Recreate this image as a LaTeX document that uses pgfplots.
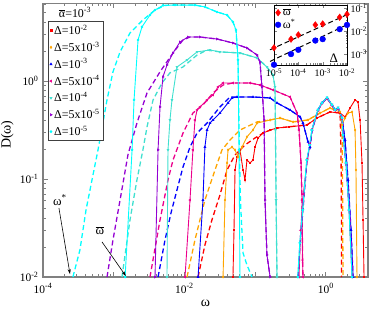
\documentclass[border=0pt]{standalone}
\usepackage{fontspec}
\setmainfont{Liberation Serif}
\usepackage{pgfplots}
\pgfplotsset{compat=1.18}
\usetikzlibrary{arrows.meta}
\definecolor{cOrange}{RGB}{255,165,0}
\definecolor{cTurq}{RGB}{64,224,208}
\definecolor{cPurple}{RGB}{148,0,211}
\definecolor{cCyan}{RGB}{0,255,255}
\pgfplotsset{
 sol/.style={line width=0.9pt, mark size=0.8pt},
 das/.style={line width=1.3pt, dash pattern=on 5bp off 3bp, mark=none},
}
\begin{document}
\begin{tikzpicture}
\begin{axis}[
 name=main, at={(0,0)}, anchor=south west,
 scale only axis, width=325bp, height=273.7bp,
 xmode=log, ymode=log,
 xmin=1e-4, xmax=3.95, ymin=0.01, ymax=6.2,
 xtick={1e-4,1e-3,1e-2,1e-1,1},
 xticklabels={10\textsuperscript{-4},,10\textsuperscript{-2},,10\textsuperscript{0}},
 minor xtick={2e-4,3e-4,4e-4,5e-4,6e-4,7e-4,8e-4,9e-4,2e-3,3e-3,4e-3,5e-3,6e-3,7e-3,8e-3,9e-3,2e-2,3e-2,4e-2,5e-2,6e-2,7e-2,8e-2,9e-2,0.2,0.3,0.4,0.5,0.6,0.7,0.8,0.9,2,3},
 ytick={0.01,0.1,1},
 yticklabels={10\textsuperscript{-2},10\textsuperscript{-1},10\textsuperscript{0}},
 minor ytick={0.02,0.03,0.04,0.05,0.06,0.07,0.08,0.09,0.2,0.3,0.4,0.5,0.6,0.7,0.8,0.9,2,3,4,5,6},
 tick align=inside, major tick length=5bp, minor tick length=3bp,
 axis line style={gray, line width=1.1pt},
 tick style={gray, line width=0.7pt},
 tick label style={font=\fontsize{11.5}{13}\selectfont, black},
 xticklabel style={yshift=-3bp},
 yticklabel style={xshift=-1bp},
 xlabel={ω}, ylabel={D(ω)},
 label style={font=\fontsize{14}{16}\selectfont},
 xlabel style={at={(axis description cs:0.5,-0.095)}, anchor=center},
 ylabel style={at={(axis description cs:-0.11,0.52)}, anchor=center},
 legend image code/.code={\draw[#1] plot coordinates {(0.1cm,0cm)};},
 legend cell align=left,
 legend style={at={(axis description cs:0.0154,0.935)}, anchor=north west,
   draw=black!75, line width=0.6pt, fill=white, inner sep=1.5pt, row sep=1.8pt,
   font=\fontsize{12}{13}\selectfont},
]
\addlegendimage{only marks, mark=square*, mark size=1pt, red}
\addlegendentry{Δ=10\textsuperscript{-2}}
\addlegendimage{only marks, mark=diamond*, mark size=1.2pt, cOrange}
\addlegendentry{Δ=5x10\textsuperscript{-3}}
\addlegendimage{only marks, mark=triangle*, mark size=1.2pt, blue}
\addlegendentry{Δ=10\textsuperscript{-3}}
\addlegendimage{only marks, mark=triangle*, mark size=1.2pt, mark options={rotate=90}, magenta}
\addlegendentry{Δ=5x10\textsuperscript{-4}}
\addlegendimage{only marks, mark=triangle*, mark size=1.2pt, mark options={rotate=180}, cTurq}
\addlegendentry{Δ=10\textsuperscript{-4}}
\addlegendimage{only marks, mark=triangle*, mark size=1.2pt, mark options={rotate=270}, cPurple}
\addlegendentry{Δ=5x10\textsuperscript{-5}}
\addlegendimage{only marks, mark=*, mark size=1pt, cCyan}
\addlegendentry{Δ=10\textsuperscript{-5}}

% ---- red, Delta = 1e-2
\addplot[sol, red, mark=square*, forget plot] coordinates {
(4.86e-2,0.01)(5.03e-2,0.0302)(5.2e-2,0.1236)(5.55e-2,0.1675)(6.11e-2,0.198)(6.75e-2,0.1236)(7.19e-2,0.0977)(7.67e-2,0.156)(8.47e-2,0.1455)(9.33e-2,0.156)(9.97e-2,0.212)(0.11,0.262)(0.1294,0.294)(0.163,0.316)(0.204,0.331)(0.3,0.34)(0.542,0.356)(0.751,0.419)(1.146,0.483)(1.588,0.471)(1.87,0.43)(2.2,0.53)(2.59,0.64)(2.85,0.611)(3.05,0.40)(3.25,0.1455)(3.36,0.0382)(3.47,0.01)};
\addplot[das, red, forget plot] coordinates {
(1.56e-2,0.01)(1.95e-2,0.0212)(2.45e-2,0.0382)(3.18e-2,0.0687)(4.01e-2,0.1236)(5.2e-2,0.176)(7.19e-2,0.222)(9.97e-2,0.262)(0.138,0.302)(0.204,0.331)(0.542,0.356)(0.751,0.419)(1.146,0.483)(1.588,0.471)(1.64,0.2)(1.66,0.06)(1.67,0.01)};
% ---- orange, Delta = 5e-3
\addplot[sol, cOrange, mark=diamond*, forget plot] coordinates {
(3.52e-2,0.01)(3.75e-2,0.061)(4.01e-2,0.1455)(4.14e-2,0.198)(4.71e-2,0.212)(5.2e-2,0.198)(5.73e-2,0.1675)(6.53e-2,0.212)(7.67e-2,0.269)(9.33e-2,0.316)(0.1064,0.372)(0.163,0.40)(0.225,0.419)(0.344,0.382)(0.56,0.40)(0.828,0.471)(1.146,0.53)(1.588,0.483)(1.694,0.356)(1.87,0.419)(2.06,0.471)(2.35,0.483)(2.59,0.316)(2.67,0.1236)(2.76,0.01)};
\addplot[das, cOrange, forget plot] coordinates {
(1.09e-2,0.01)(1.41e-2,0.0239)(1.95e-2,0.061)(2.71e-2,0.1236)(3.4e-2,0.198)(4.42e-2,0.25)(6.11e-2,0.316)(0.1064,0.382)(0.163,0.40)(0.225,0.419)(0.344,0.382)(0.56,0.40)(0.828,0.471)(1.146,0.53)(1.588,0.483)(1.694,0.356)(1.72,0.12)(1.75,0.01)};
% ---- blue, Delta = 1e-3
\addplot[sol, blue, mark=triangle*, forget plot] coordinates {
(1.56e-2,0.01)(1.83e-2,0.061)(1.95e-2,0.212)(2.09e-2,0.316)(2.3e-2,0.372)(2.54e-2,0.40)(3.18e-2,0.471)(4.14e-2,0.597)(4.71e-2,0.671)(5.55e-2,0.687)(9.33e-2,0.687)(0.163,0.671)(0.204,0.597)(0.312,0.506)(0.432,0.43)(0.475,0.372)(0.56,0.239)(0.598,0.212)(0.638,0.316)(0.776,0.506)(0.883,0.597)(1.04,0.671)(1.224,0.569)(1.349,0.506)(1.489,0.53)(1.694,0.419)(1.87,0.25)(2.06,0.0977)(2.27,0.0302)(2.43,0.01)};
\addplot[das, blue, forget plot] coordinates {
(4.24e-3,0.01)(5.32e-3,0.0239)(6.46e-3,0.045)(7.85e-3,0.0772)(9.55e-3,0.1325)(1.2e-2,0.212)(1.51e-2,0.294)(2.09e-2,0.372)(3.18e-2,0.543)(4.42e-2,0.687)(5.55e-2,0.687)(9.33e-2,0.687)(0.163,0.671)(0.204,0.597)(0.312,0.506)(0.432,0.43)(0.475,0.372)(0.56,0.239)(0.598,0.212)(0.638,0.316)(0.776,0.506)(0.883,0.597)(1.04,0.671)(1.224,0.569)(1.349,0.506)(1.489,0.53)(1.694,0.419)(1.87,0.25)(2.06,0.0977)(2.27,0.0302)(2.43,0.01)};
% ---- magenta, Delta = 5e-4
\addplot[sol, magenta, mark=triangle*, mark options={rotate=90}, forget plot] coordinates {
(1.02e-2,0.01)(1.2e-2,0.061)(1.32e-2,0.198)(1.41e-2,0.40)(1.51e-2,0.506)(1.66e-2,0.543)(2.09e-2,0.64)(2.54e-2,0.72)(2.99e-2,0.869)(3.52e-2,0.954)(4.86e-2,0.954)(8.47e-2,0.954)(0.117,0.91)(0.179,0.81)(0.312,0.687)(0.392,0.471)(0.418,0.316)(0.446,0.1455)(0.461,0.061)(0.469,0.0149)(0.475,0.01)};
\addplot[das, magenta, forget plot] coordinates {
(3.26e-3,0.01)(4.52e-3,0.0382)(5.86e-3,0.0977)(6.9e-3,0.156)(9.55e-3,0.294)(1.32e-2,0.471)(1.83e-2,0.569)(2.54e-2,0.755)(3.52e-2,0.91)(4.86e-2,0.954)(8.47e-2,0.954)(0.117,0.91)(0.179,0.81)(0.312,0.687)(0.392,0.471)(0.418,0.316)(0.446,0.1455)(0.461,0.061)(0.469,0.0149)(0.475,0.01)};
\addplot[sol, magenta, mark=triangle*, mark options={rotate=90}, forget plot] coordinates {
(0.418,0.01)(0.44,0.03)(0.48,0.07)(0.55,0.16)(0.60,0.23)(0.64,0.32)(0.78,0.50)(0.88,0.59)(1.04,0.66)(1.22,0.56)(1.35,0.50)(1.49,0.52)(1.69,0.41)(1.75,0.28)(1.93,0.145)(2.13,0.048)(2.35,0.01)};
% ---- turquoise, Delta = 1e-4
\addplot[sol, cTurq, mark=triangle*, mark options={rotate=180}, forget plot] coordinates {
(5.67e-3,0.01)(5.86e-3,0.198)(6.25e-3,0.40)(6.67e-3,0.64)(7.85e-3,1.39)(1.09e-2,1.64)(1.51e-2,1.98)(2.3e-2,2.07)(3.18e-2,1.98)(6.11e-2,1.93)(0.1064,1.72)(0.147,1.39)(0.179,1.15)(0.191,0.869)(0.194,0.316)(0.198,0.061)(0.204,0.01)};
\addplot[das, cTurq, forget plot] coordinates {
(1.31e-3,0.01)(1.7e-3,0.0382)(2.13e-3,0.0977)(2.59e-3,0.198)(2.96e-3,0.34)(3.6e-3,0.64)(4.82e-3,0.954)(6.25e-3,1.21)(9.55e-3,1.39)(1.51e-2,1.84)(2.09e-2,2.07)(3.18e-2,1.98)(6.11e-2,1.93)(0.1064,1.72)(0.147,1.39)(0.179,1.15)(0.191,0.869)(0.194,0.316)(0.198,0.061)(0.204,0.01)};
\addplot[sol, cTurq, mark=triangle*, mark options={rotate=180}, forget plot] coordinates {
(0.405,0.01)(0.432,0.0222)(0.475,0.0483)(0.542,0.156)(0.598,0.222)(0.638,0.316)(0.776,0.51)(0.883,0.60)(1.04,0.68)(1.224,0.575)(1.349,0.51)(1.489,0.535)(1.694,0.42)(1.75,0.281)(1.93,0.1455)(2.13,0.0483)(2.35,0.01)};
% ---- purple, Delta = 5e-5
\addplot[sol, cPurple, mark=triangle*, mark options={rotate=270}, forget plot] coordinates {
(3.84e-3,0.01)(4.24e-3,0.198)(4.52e-3,0.543)(4.98e-3,1.1)(5.67e-3,1.456)(6.9e-3,1.93)(8.67e-3,2.5)(1.12e-2,2.81)(1.66e-2,2.81)(2.89e-2,2.68)(4.86e-2,2.44)(7.67e-2,2.17)(0.1064,1.84)(0.117,1.56)(0.125,0.869)(0.134,0.40)(0.138,0.061)(0.147,0.0168)(0.163,0.01)};
\addplot[das, cPurple, forget plot] coordinates {
(8.04e-4,0.01)(9.77e-4,0.0239)(1.23e-3,0.061)(1.59e-3,0.176)(2.13e-3,0.372)(2.96e-3,0.755)(4.52e-3,1.24)(6.9e-3,1.93)(9.55e-3,2.62)(1.2e-2,2.81)(1.66e-2,2.81)(2.89e-2,2.68)(4.86e-2,2.44)(7.67e-2,2.17)(0.1064,1.84)(0.117,1.56)(0.125,0.869)(0.134,0.40)(0.138,0.061)(0.147,0.0168)(0.163,0.01)};
\addplot[das, cPurple, forget plot] coordinates {
(0.405,0.01)(0.432,0.0222)(0.475,0.0483)(0.542,0.156)(0.598,0.222)(0.638,0.316)(0.776,0.506)(0.883,0.597)(1.04,0.671)(1.224,0.569)(1.349,0.506)(1.489,0.53)(1.694,0.419)(1.8,0.25)(2.0,0.1)(2.2,0.04)(2.4,0.01)};
% ---- cyan, Delta = 1e-5
\addplot[sol, cCyan, mark=*, forget plot] coordinates {
(1.45e-3,0.01)(1.82e-3,0.198)(1.94e-3,0.64)(2.21e-3,2.62)(2.51e-3,3.56)(3.26e-3,4.71)(3.84e-3,5.3)(4.98e-3,5.9)(7.36e-3,5.95)(1.41e-2,5.95)(1.95e-2,5.69)(2.89e-2,5.06)(4.01e-2,4.71)(4.86e-2,4.0)(5.37e-2,3.31)(5.73e-2,1.64)(5.92e-2,0.198)(6.11e-2,0.01)};
\addplot[das, cCyan, forget plot] coordinates {
(2.65e-4,0.01)(3.33e-4,0.0189)(4.06e-4,0.0483)(4.93e-4,0.0977)(6.0e-4,0.198)(8.04e-4,0.64)(9.77e-4,1.24)(1.23e-3,1.98)(1.70e-3,3.09)(2.59e-3,4.19)(3.84e-3,5.3)(5.32e-3,5.9)(7.36e-3,5.95)(1.41e-2,5.95)(1.95e-2,5.69)(2.89e-2,5.06)(4.01e-2,4.71)(4.86e-2,4.0)(5.37e-2,3.31)(5.73e-2,1.64)(6.0e-2,0.198)(6.2e-2,0.06)(6.75e-2,0.0176)(7.6e-2,0.0135)(9.03e-2,0.01)};
\addplot[sol, cCyan, mark=*, forget plot] coordinates {
(0.40,0.01)(0.428,0.0222)(0.47,0.0483)(0.535,0.156)(0.59,0.222)(0.632,0.316)(0.77,0.506)(0.88,0.597)(1.04,0.675)(1.224,0.569)(1.349,0.506)(1.489,0.53)(1.694,0.419)(1.75,0.281)(1.93,0.1455)(2.13,0.0483)(2.35,0.01)};

% annotations
\node[font=\fontsize{13}{15}\selectfont] at (axis cs:1.74e-4,0.061) {ω\textsuperscript{*}};
\draw[-{Stealth[length=5bp,width=3bp]}, black, line width=0.6pt] (axis cs:1.68e-4,0.0506) -- (axis cs:2.41e-4,0.0107);
\node[font=\fontsize{13}{15}\selectfont] at (axis cs:6.4e-4,0.0295) {$\overline{\mbox{ω}}$};
\draw[-{Stealth[length=5bp,width=3bp]}, black, line width=0.6pt] (axis cs:6.83e-4,0.0228) -- (axis cs:1.49e-3,0.0102);
\node[font=\fontsize{12}{13}\selectfont] at (axis cs:2.84e-4,5.0) {$\overline{\mbox{α}}$=10\textsuperscript{-3}};
\end{axis}

% ---- inset
\begin{axis}[
 at={(231bp,212bp)}, anchor=south west,
 scale only axis, width=73bp, height=60bp,
 xmode=log, ymode=log,
 xmin=1e-5, xmax=1e-2, ymin=3.4e-4, ymax=0.142,
 xtick={1e-5,1e-4,1e-3,1e-2},
 xticklabels={10\textsuperscript{-5},10\textsuperscript{-4},10\textsuperscript{-3},10\textsuperscript{-2}},
 ytick={1e-3,1e-2,1e-1},
 yticklabels={10\textsuperscript{-3},10\textsuperscript{-2},10\textsuperscript{-1}},
 yticklabel pos=right,
 tick align=inside, major tick length=3bp, minor tick length=1.5bp,
 tick label style={font=\fontsize{10}{11}\selectfont},
 axis line style={black, line width=0.6pt},
 axis background/.style={fill=white},
 clip=false,
 legend image code/.code={\draw[#1] plot coordinates {(0.12cm,0cm)};},
 legend cell align=left,
 legend style={at={(axis description cs:0.0,1.0)}, anchor=north west, draw=none, fill=none,
   font=\fontsize{12}{13}\selectfont, row sep=-2pt, inner sep=1pt},
]
\addplot[only marks, mark=diamond*, mark size=3.3pt, red] coordinates {
(1e-5,1.92e-3)(5e-5,4.58e-3)(1e-4,7.05e-3)(5e-4,1.92e-2)(1e-3,2.12e-2)(5e-3,4.14e-2)(1e-2,5.6e-2)};
\addlegendentry{$\overline{\mbox{ω}}$}
\addplot[only marks, mark=*, mark size=2.9pt, blue] coordinates {
(1e-5,3.49e-4)(5e-5,1.02e-3)(1e-4,1.57e-3)(5e-4,3.98e-3)(1e-3,4.58e-3)(5e-3,1.25e-2)(1e-2,1.92e-2)};
\addlegendentry{ω\textsuperscript{*}}
\addplot[black, line width=1pt, dash pattern=on 5bp off 3bp, forget plot] coordinates {(6.86e-6,1.57e-3)(1.33e-2,6.18e-2)};
\addplot[black, line width=1pt, dash pattern=on 5bp off 3bp, forget plot] coordinates {(6.86e-6,4.87e-4)(9.73e-3,1.92e-2)};
\node[font=\fontsize{13}{15}\selectfont] at (rel axis cs:0.82,0.12) {Δ};
\end{axis}
\pgfresetboundingbox
\path[use as bounding box] (-43bp,-33bp) rectangle (327bp,277bp);
\end{tikzpicture}
\end{document}
